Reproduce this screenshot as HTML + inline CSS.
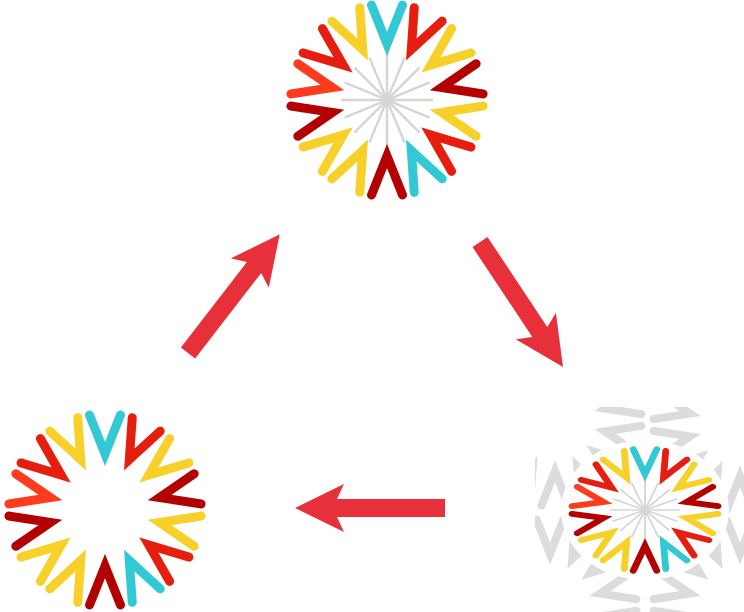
<!DOCTYPE html>
<html><head><meta charset="utf-8"><style>
html,body{margin:0;padding:0;background:#fff;width:744px;height:612px;overflow:hidden}
svg{display:block}
</style></head><body>
<svg width="744" height="612" viewBox="0 0 744 612" xmlns="http://www.w3.org/2000/svg">
<defs>
<g id="ch"><polyline points="-15.5,-95 0,-56 15.5,-95" fill="none" stroke-width="9" stroke-linecap="round" stroke-linejoin="miter"/></g>
<g id="ring">
<use href="#ch" stroke="#33c9d4" transform="rotate(0)"/>
<use href="#ch" stroke="#e61e10" transform="rotate(25.71)"/>
<use href="#ch" stroke="#f7d12a" transform="rotate(51.43)"/>
<use href="#ch" stroke="#b30000" transform="rotate(77.14)"/>
<use href="#ch" stroke="#f7d12a" transform="rotate(102.86)"/>
<use href="#ch" stroke="#e61e10" transform="rotate(128.57)"/>
<use href="#ch" stroke="#33c9d4" transform="rotate(154.29)"/>
<use href="#ch" stroke="#b30000" transform="rotate(180)"/>
<use href="#ch" stroke="#f7d12a" transform="rotate(205.71)"/>
<use href="#ch" stroke="#f7d12a" transform="rotate(231.43)"/>
<use href="#ch" stroke="#b30000" transform="rotate(257.14)"/>
<use href="#ch" stroke="#ff3b1e" transform="rotate(282.86)"/>
<use href="#ch" stroke="#e61e10" transform="rotate(308.57)"/>
<use href="#ch" stroke="#f7d12a" transform="rotate(334.29)"/>
</g>
<g id="spokes" stroke="#d6d6d6" stroke-width="2.5">
<line x1="0" y1="-46" x2="0" y2="46"/>
<line x1="0" y1="-46" x2="0" y2="46" transform="rotate(22.5)"/>
<line x1="0" y1="-46" x2="0" y2="46" transform="rotate(45)"/>
<line x1="0" y1="-46" x2="0" y2="46" transform="rotate(67.5)"/>
<line x1="0" y1="-46" x2="0" y2="46" transform="rotate(90)"/>
<line x1="0" y1="-46" x2="0" y2="46" transform="rotate(112.5)"/>
<line x1="0" y1="-46" x2="0" y2="46" transform="rotate(135)"/>
<line x1="0" y1="-46" x2="0" y2="46" transform="rotate(157.5)"/>
</g>
<g id="gch"><polyline points="-15,-95 0,-57 15,-95" fill="none" stroke="#dcdcdc" stroke-width="9" stroke-linecap="round"/></g>
<g id="gring">
<use href="#gch" transform="rotate(0)"/><use href="#gch" transform="rotate(25.71)"/><use href="#gch" transform="rotate(51.43)"/><use href="#gch" transform="rotate(77.14)"/><use href="#gch" transform="rotate(102.86)"/><use href="#gch" transform="rotate(128.57)"/><use href="#gch" transform="rotate(154.29)"/><use href="#gch" transform="rotate(180)"/><use href="#gch" transform="rotate(205.71)"/><use href="#gch" transform="rotate(231.43)"/><use href="#gch" transform="rotate(257.14)"/><use href="#gch" transform="rotate(282.86)"/><use href="#gch" transform="rotate(308.57)"/><use href="#gch" transform="rotate(334.29)"/>
</g>
<clipPath id="cp"><rect x="535" y="407" width="209" height="205"/></clipPath>
<path id="arr" d="M0,-9 L108,-9 L101,-24 L150,0 L101,24 L108,9 L0,9 Z" fill="#e8303a"/>
</defs>

<g transform="translate(387,100)"><use href="#spokes"/><use href="#ring"/></g>
<g transform="translate(105,510)"><use href="#ring"/></g>

<g clip-path="url(#cp)">
<g transform="translate(555,420) scale(0.9)"><use href="#gring"/></g>
<g transform="translate(740,425) scale(0.9)"><use href="#gring"/></g>
<g transform="translate(550,605) scale(0.9)"><use href="#gring"/></g>
<g transform="translate(740,605) scale(0.9)"><use href="#gring"/></g>
<ellipse cx="645" cy="510" rx="84" ry="70" fill="#fff"/>
</g>
<g transform="translate(645,510) scale(0.76,0.64)"><use href="#spokes"/><use href="#ring"/></g>

<use href="#arr" transform="translate(188,353) rotate(-52.3)"/>
<use href="#arr" transform="translate(480,242) rotate(56.4)"/>
<use href="#arr" transform="translate(445,508) rotate(180)"/>
</svg>
</body></html>
